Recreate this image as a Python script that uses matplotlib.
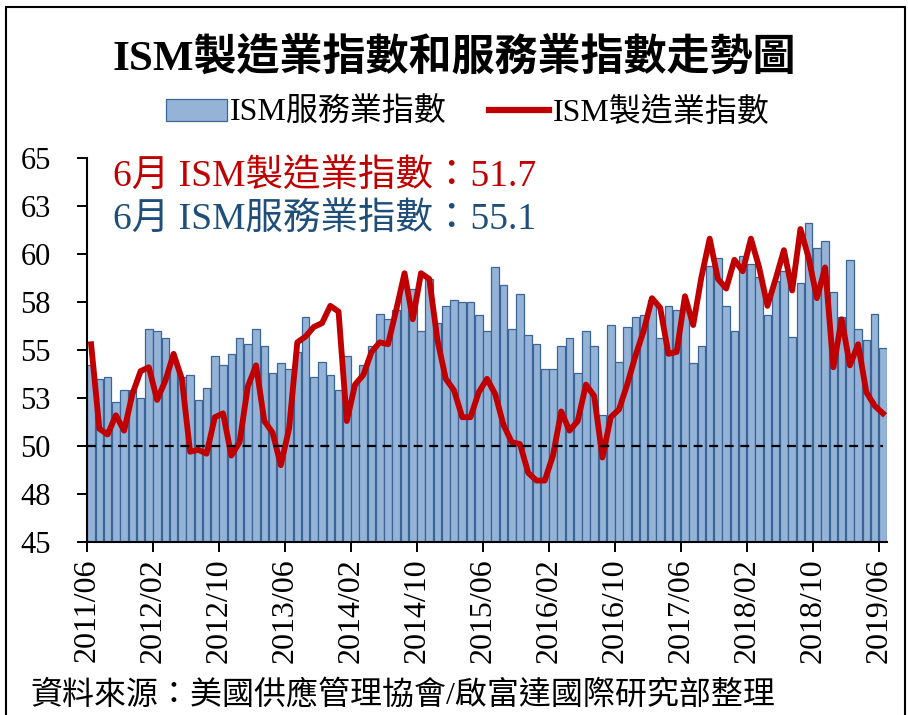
import numpy as np
import pandas as pd
import matplotlib
matplotlib.use("Agg")
import matplotlib.pyplot as plt
from matplotlib.patches import Rectangle, Patch
from matplotlib.lines import Line2D

plt.rcParams['font.family'] = ['Liberation Serif', 'Noto Sans CJK TC']

# monthly categories 2011/06 .. 2019/06
months = pd.date_range("2011-06-01", "2019-06-01", freq="MS").strftime("%Y/%m").tolist()

# ISM services index (bars)
services = [54.2, 53.5, 53.6, 52.3, 52.9, 52.9, 52.5,
            56.1, 56.0,
            55.6, 54.4, 53.6, 53.7, 52.4, 53.0, 54.7,
            54.2, 54.8, 55.6, 55.3, 56.1, 55.2, 53.8, 54.3,
            54.0, 54.9, 56.7, 53.6, 54.4, 53.7, 52.9, 54.7,
            53.2, 54.2, 55.2, 56.9, 56.6, 57.1, 58.3, 58.2,
            56.0, 58.7, 56.4, 57.3, 57.6, 57.5, 57.5, 56.8,
            56.0, 59.3, 58.4, 56.1, 57.9, 55.8, 55.3, 54.0,
            54.0, 55.2, 55.6, 53.8, 56.0, 55.2, 51.6, 56.3,
            54.4, 56.2, 56.7, 56.8, 57.6, 55.6, 57.3, 57.1,
            57.4, 54.3, 55.2, 59.4, 59.8, 57.3, 56.0, 59.9,
            59.5, 58.8, 56.8, 58.6, 59.1, 55.7, 58.5, 61.6,
            60.3, 60.7, 58.0, 56.7, 59.7, 56.1, 55.5, 56.9,
            55.1]

# ISM manufacturing index (line)
manufacturing = [55.3, 50.9, 50.6, 51.6, 50.8, 52.7, 53.9,
                 54.1, 52.4, 53.4, 54.8, 53.5, 49.7, 49.8, 49.6, 51.5, 51.7, 49.5, 50.2,
                 53.1, 54.2, 51.3, 50.7, 49.0, 50.9, 55.4, 55.7, 56.2, 56.4, 57.3, 57.0,
                 51.3, 53.2, 53.7, 54.9, 55.4, 55.3, 57.1, 59.0, 56.6, 59.0, 58.7, 55.5,
                 53.5, 52.9, 51.5, 51.5, 52.8, 53.5, 52.7, 51.1, 50.2, 50.1, 48.6, 48.2,
                 48.2, 49.5, 51.8, 50.8, 51.3, 53.2, 52.6, 49.4, 51.5, 51.9, 53.2, 54.7,
                 56.0, 57.7, 57.2, 54.8, 54.9, 57.8, 56.3, 58.8, 60.8, 58.7, 58.2, 59.7,
                 59.1, 60.8, 59.3, 57.3, 58.7, 60.2, 58.1, 61.3, 59.8, 57.7, 59.3, 54.1,
                 56.6, 54.2, 55.3, 52.8, 52.1, 51.7]

yticks = [45, 47.5, 50, 52.5, 55, 57.5, 60, 62.5, 65]
ytick_labels = ["45", "48", "50", "53", "55", "58", "60", "63", "65"]

title = "ISM製造業指數和服務業指數走勢圖"
note_mfg = "6月 ISM製造業指數：51.7"
note_svc = "6月 ISM服務業指數：55.1"
source = "資料來源：美國供應管理協會/啟富達國際研究部整理"

bar_face = "#95B3D7"
bar_edge = "#3B6596"
red = "#C00000"
blue = "#1F4E79"

fig = plt.figure(figsize=(9.08, 7.15), dpi=100)
ax = fig.add_axes([87 / 908, 173 / 715, 800 / 908, 384 / 715])

x = np.arange(len(months))
ax.bar(x, services, width=0.92, bottom=0, color=bar_face, edgecolor=bar_edge, linewidth=0.9)
ax.plot(x, manufacturing, color=red, linewidth=4.2, solid_joinstyle="round")
ax.axhline(50, color="black", linestyle=(0, (4, 3)), linewidth=1.6, xmin=0.0, xmax=0.995)

ax.set_ylim(45, 65)
ax.set_xlim(-0.5, len(months) - 0.5)
ax.set_yticks(yticks)
ax.set_yticklabels(ytick_labels, fontsize=22)
tick_idx = list(range(0, len(months), 8))
ax.set_xticks([i - 0.5 for i in tick_idx])
ax.set_xticklabels([months[i] for i in tick_idx], rotation=90, fontsize=23)
ax.tick_params(axis="both", direction="out", length=7, width=1.4, color="black")
ax.tick_params(axis="x", pad=5)
ax.tick_params(axis="y", pad=19)

for side in ["top", "right"]:
    ax.spines[side].set_visible(False)
for side in ["left", "bottom"]:
    ax.spines[side].set_linewidth(1.5)

ax.text(0.033, 0.953, note_mfg, transform=ax.transAxes, color=red,
        fontsize=27, va="center", ha="left")
ax.text(0.033, 0.841, note_svc, transform=ax.transAxes, color=blue,
        fontsize=27, va="center", ha="left")

fig.text(0.5, 1 - 58 / 715, title, ha="center", va="center",
         fontsize=31, fontweight="bold")

handles = [Patch(facecolor=bar_face, edgecolor=bar_edge, linewidth=0.9),
           Line2D([0], [0], color=red, linewidth=4.5)]
fig.legend(handles, ["ISM服務業指數", "ISM製造業指數"], loc="center",
           bbox_to_anchor=(0.5 + 14 / 908, 1 - 113 / 715), ncol=2, frameon=False,
           fontsize=23, handlelength=1.9, handleheight=0.7,
           handletextpad=0.1, columnspacing=1.3)

fig.text(30 / 908, 1 - 695 / 715, source, ha="left", va="center", fontsize=23)

fig.patches.append(Rectangle((6 / 908, -0.02), 899 / 908, 1 - 7 / 715 + 0.02,
                             transform=fig.transFigure, fill=False,
                             edgecolor="black", linewidth=1.5))

fig.savefig("out.png", dpi=100)
